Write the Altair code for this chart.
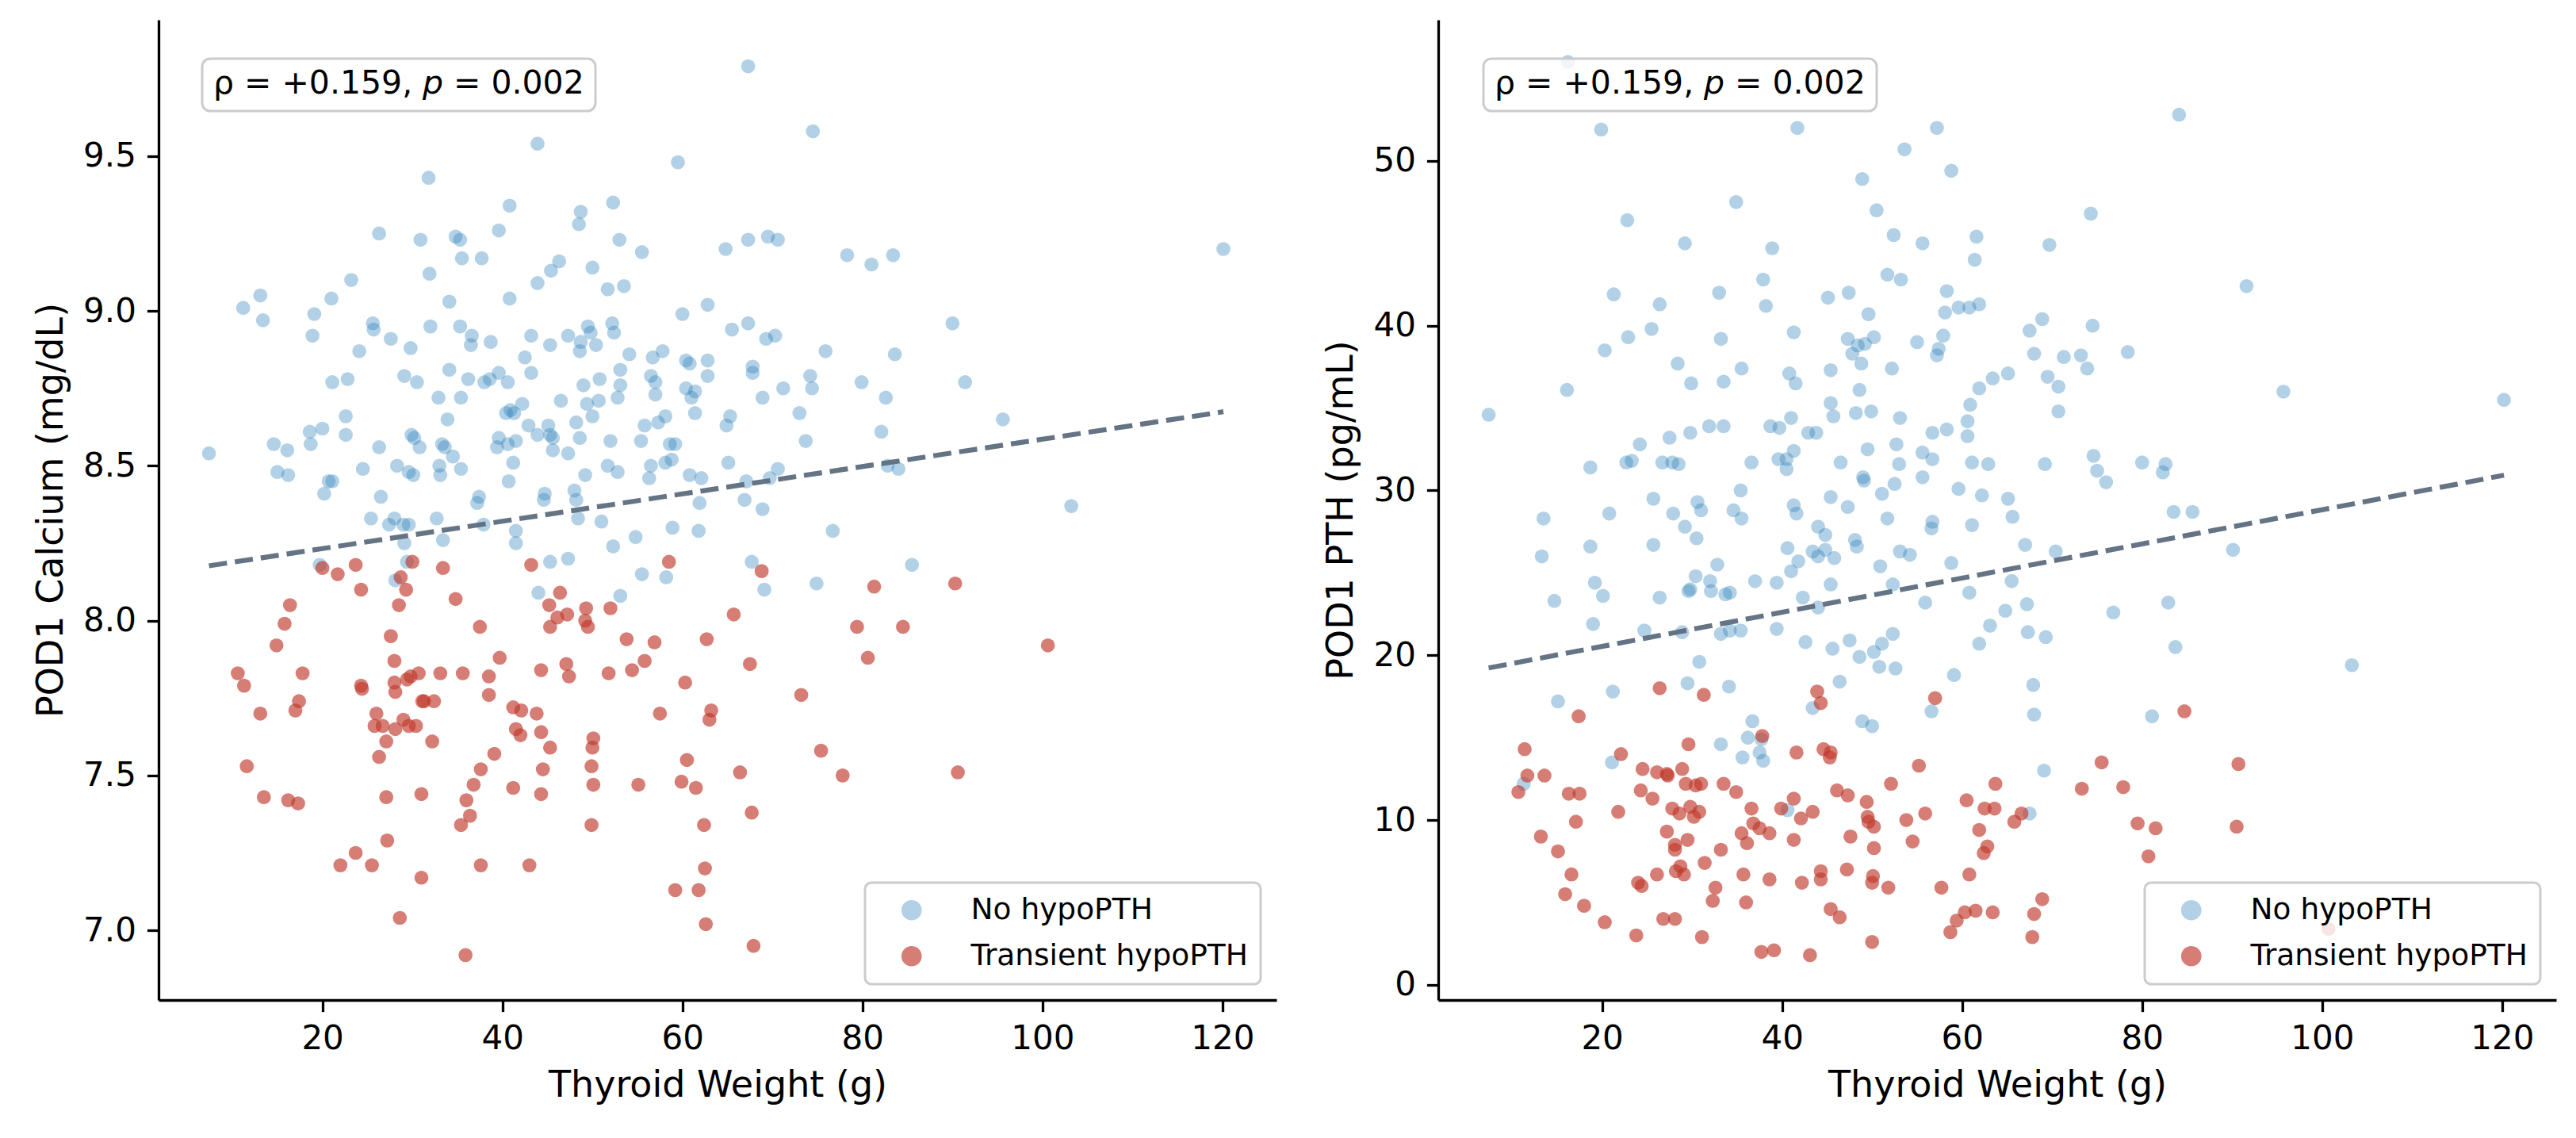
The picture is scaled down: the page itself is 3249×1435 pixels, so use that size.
import altair as alt
import pandas as pd

GROUPS = ["No hypoPTH", "Transient hypoPTH"]
COLORS = ["#2980b9", "#c0392b"]
OPAC = [0.36, 0.65]
X_TICKS = [20, 40, 60, 80, 100, 120]
CA_TICKS = [7.0, 7.5, 8.0, 8.5, 9.0, 9.5]
PTH_TICKS = [0, 10, 20, 30, 40, 50]
ANNOT = ["ρ = +0.159,", "p", "= 0.002"]

# (thyroid weight g, POD1 calcium mg/dL) - no hypoPTH
ca_no = [
    (43.9, 9.54), (59.5, 9.48), (31.8, 9.43), (40.8, 9.34), (52.3, 9.35), (48.7, 9.32), (48.5, 9.28),
    (26.3, 9.25), (30.9, 9.23), (34.8, 9.24), (35.3, 9.23), (39.6, 9.26), (53.0, 9.23), (55.5, 9.19),
    (35.5, 9.17), (37.7, 9.17), (46.3, 9.16), (45.4, 9.13), (50.0, 9.14), (31.9, 9.12), (23.2, 9.10),
    (43.9, 9.09), (51.7, 9.07), (53.5, 9.08), (13.1, 9.05), (11.2, 9.01), (13.4, 8.97), (21.0, 9.04),
    (34.1, 9.03), (40.8, 9.04), (62.8, 9.02), (60.0, 8.99), (19.1, 8.99), (18.9, 8.92), (25.6, 8.96),
    (25.7, 8.94), (32.0, 8.95), (35.3, 8.95), (52.2, 8.96), (52.4, 8.93), (49.5, 8.95), (49.8, 8.93),
    (47.3, 8.92), (48.7, 8.90), (48.6, 8.87), (50.4, 8.89), (36.6, 8.92), (36.5, 8.89), (38.7, 8.90),
    (43.2, 8.92), (45.3, 8.89), (27.6, 8.91), (29.8, 8.88), (24.1, 8.87), (42.5, 8.85), (54.1, 8.86),
    (56.7, 8.85), (57.8, 8.87), (60.4, 8.84), (60.8, 8.83), (62.8, 8.84), (34.1, 8.81), (43.2, 8.80),
    (29.1, 8.79), (30.5, 8.77), (36.2, 8.78), (38.0, 8.77), (38.6, 8.78), (39.6, 8.80), (40.6, 8.77),
    (21.1, 8.77), (22.8, 8.78), (50.8, 8.78), (53.1, 8.81), (53.1, 8.76), (49.0, 8.76), (56.5, 8.79),
    (57.0, 8.77), (62.8, 8.79), (60.4, 8.75), (61.4, 8.74), (61.0, 8.72), (57.0, 8.73), (32.9, 8.72),
    (35.4, 8.72), (46.5, 8.71), (52.8, 8.72), (49.4, 8.70), (50.7, 8.71), (42.2, 8.70), (40.9, 8.68),
    (40.4, 8.67), (41.3, 8.67), (61.4, 8.67), (22.6, 8.66), (33.9, 8.65), (50.0, 8.66), (58.1, 8.66),
    (57.3, 8.64), (48.2, 8.64), (55.8, 8.63), (42.9, 8.63), (18.6, 8.61), (20.0, 8.62), (22.6, 8.60),
    (29.9, 8.60), (30.2, 8.59), (45.1, 8.63), (45.3, 8.60), (45.6, 8.59), (43.9, 8.60), (39.6, 8.59),
    (39.4, 8.56), (40.6, 8.57), (41.5, 8.58), (48.6, 8.59), (52.0, 8.58), (55.4, 8.58), (58.6, 8.57),
    (59.2, 8.57), (14.6, 8.57), (16.1, 8.55), (18.7, 8.57), (26.3, 8.56), (30.8, 8.56), (33.3, 8.57),
    (33.6, 8.56), (34.5, 8.53), (45.6, 8.55), (47.3, 8.54), (7.4, 8.54), (41.2, 8.51), (56.5, 8.50),
    (58.1, 8.51), (58.8, 8.52), (51.7, 8.50), (52.8, 8.48), (24.5, 8.49), (28.3, 8.50), (29.6, 8.48),
    (30.1, 8.47), (33.0, 8.50), (33.1, 8.47), (35.4, 8.49), (15.0, 8.48), (16.2, 8.47), (20.7, 8.45),
    (21.1, 8.45), (40.7, 8.45), (49.2, 8.47), (56.3, 8.46), (60.8, 8.47), (62.1, 8.46), (20.2, 8.41),
    (26.5, 8.40), (44.7, 8.41), (44.6, 8.39), (48.0, 8.42), (48.2, 8.39), (37.4, 8.40), (37.2, 8.38),
    (61.9, 8.38), (25.4, 8.33), (27.4, 8.31), (28.0, 8.33), (29.0, 8.31), (29.6, 8.31), (32.7, 8.33),
    (29.1, 8.25), (33.4, 8.26), (37.9, 8.31), (41.5, 8.29), (41.5, 8.25), (48.4, 8.33), (51.0, 8.32),
    (52.3, 8.24), (54.8, 8.27), (58.9, 8.30), (61.8, 8.29), (19.7, 8.18), (29.4, 8.19), (28.1, 8.13),
    (45.3, 8.19), (47.3, 8.20), (55.5, 8.15), (58.2, 8.14), (44.0, 8.09), (53.1, 8.08),
    (67.3, 9.79), (74.5, 9.58), (64.8, 9.20), (67.3, 9.23), (69.5, 9.24), (70.6, 9.23), (78.3, 9.18),
    (81.0, 9.15), (83.4, 9.18), (120.1, 9.20), (67.3, 8.96), (65.5, 8.94), (69.3, 8.91), (70.3, 8.92),
    (90.0, 8.96), (75.9, 8.87), (83.6, 8.86), (67.8, 8.82), (67.8, 8.80), (74.2, 8.79), (74.4, 8.75),
    (71.2, 8.75), (68.9, 8.72), (79.9, 8.77), (91.4, 8.77), (82.6, 8.72), (73.0, 8.67), (65.3, 8.66),
    (64.9, 8.63), (95.6, 8.65), (82.1, 8.61), (73.7, 8.58), (65.1, 8.51), (70.6, 8.49), (82.8, 8.50),
    (84.0, 8.49), (67.1, 8.45), (69.7, 8.46), (66.9, 8.39), (68.9, 8.36), (103.2, 8.37),
    (76.7, 8.29), (67.7, 8.19), (69.1, 8.10), (74.9, 8.12), (85.5, 8.18),
]

# (thyroid weight g, POD1 calcium mg/dL) - transient hypoPTH
ca_tr = [
    (20.0, 8.17), (21.7, 8.15), (23.7, 8.18), (24.3, 8.10), (30.0, 8.19), (28.7, 8.14), (29.3, 8.10),
    (28.5, 8.05), (33.4, 8.17), (34.8, 8.07), (16.4, 8.05), (15.8, 7.99), (14.9, 7.92), (37.5, 7.98),
    (27.6, 7.95), (43.2, 8.18), (46.4, 8.09), (45.2, 8.05), (47.2, 8.02), (46.1, 8.01), (45.3, 7.98),
    (49.3, 8.04), (49.2, 8.00), (49.5, 7.98), (52.0, 8.04), (58.5, 8.19), (53.8, 7.94), (56.9, 7.93),
    (62.7, 7.94), (39.7, 7.88), (28.0, 7.87), (47.1, 7.86), (47.4, 7.82), (44.3, 7.84), (55.8, 7.87),
    (54.4, 7.84), (51.8, 7.83), (60.3, 7.80), (10.6, 7.83), (11.3, 7.79), (17.8, 7.83), (24.3, 7.79),
    (24.4, 7.78), (28.0, 7.80), (28.1, 7.77), (29.4, 7.81), (29.8, 7.82), (30.7, 7.83), (33.1, 7.83),
    (35.6, 7.83), (38.5, 7.82), (38.5, 7.76), (31.1, 7.74), (31.3, 7.74), (32.4, 7.74), (17.4, 7.74),
    (17.0, 7.71), (13.1, 7.70), (26.0, 7.70), (25.8, 7.66), (26.7, 7.66), (28.1, 7.65), (29.0, 7.68),
    (29.6, 7.66), (30.4, 7.66), (27.1, 7.61), (32.2, 7.61), (41.2, 7.72), (42.1, 7.71), (43.8, 7.70),
    (41.5, 7.65), (42.0, 7.63), (44.3, 7.64), (45.3, 7.59), (50.1, 7.62), (50.0, 7.59), (57.5, 7.70),
    (63.2, 7.71), (63.0, 7.68), (26.3, 7.56), (39.1, 7.57), (37.6, 7.52), (44.5, 7.52), (49.9, 7.53),
    (60.5, 7.55), (11.6, 7.53), (36.8, 7.47), (41.2, 7.46), (44.3, 7.44), (50.1, 7.47), (55.1, 7.47),
    (59.9, 7.48), (61.5, 7.46), (13.5, 7.43), (16.2, 7.42), (17.3, 7.41), (27.1, 7.43), (31.0, 7.44),
    (36.0, 7.42), (36.4, 7.37), (35.4, 7.34), (49.9, 7.34), (62.4, 7.34), (27.2, 7.29), (23.7, 7.25),
    (22.0, 7.21), (25.5, 7.21), (31.0, 7.17), (37.6, 7.21), (43.0, 7.21), (62.5, 7.20), (59.2, 7.13),
    (61.8, 7.13), (62.6, 7.02), (28.6, 7.04), (35.9, 6.92),
    (68.8, 8.16), (81.3, 8.11), (90.3, 8.12), (65.7, 8.02), (79.4, 7.98), (84.5, 7.98), (100.6, 7.92),
    (67.5, 7.86), (80.6, 7.88), (73.2, 7.76), (75.4, 7.58), (66.4, 7.51), (77.8, 7.50), (90.6, 7.51),
    (67.7, 7.38), (67.9, 6.95),
]

# (thyroid weight g, POD1 PTH pg/mL) - no hypoPTH
pth_no = [
    (16.2, 56.0), (19.9, 51.9), (41.7, 52.0), (57.2, 52.0), (53.6, 50.7), (58.8, 49.4), (48.9, 48.9),
    (34.9, 47.5), (50.5, 47.0), (22.8, 46.4), (52.4, 45.5), (55.6, 45.0), (29.2, 45.0), (38.9, 44.7),
    (51.7, 43.1), (53.2, 42.8), (37.9, 42.8), (21.3, 41.9), (33.0, 42.0), (47.4, 42.0), (45.1, 41.7),
    (58.3, 42.1), (26.4, 41.3), (38.2, 41.2), (49.6, 40.7), (58.1, 40.8), (59.6, 41.1), (25.5, 39.8),
    (22.9, 39.3), (33.2, 39.2), (41.3, 39.6), (47.3, 39.2), (48.4, 38.8), (49.2, 38.9), (50.2, 39.3),
    (57.9, 39.4), (55.0, 39.0), (20.3, 38.5), (57.4, 38.6), (57.2, 38.2), (47.8, 38.3), (48.8, 37.7),
    (28.4, 37.7), (35.5, 37.4), (52.2, 37.4), (40.8, 37.1), (45.4, 37.3), (29.9, 36.5), (33.5, 36.6),
    (41.5, 36.5), (16.1, 36.1), (48.6, 36.1), (45.4, 35.3), (7.4, 34.6), (48.2, 34.7), (49.9, 34.8),
    (45.7, 34.5), (41.0, 34.4), (53.1, 34.4), (31.9, 33.9), (33.5, 33.9), (38.7, 33.9), (39.7, 33.8),
    (29.8, 33.5), (42.9, 33.5), (43.8, 33.5), (56.7, 33.5), (58.3, 33.7), (27.5, 33.2), (24.2, 32.8),
    (52.7, 32.8), (49.5, 32.5), (41.3, 32.4), (55.6, 32.3), (18.7, 31.4), (22.7, 31.7), (23.3, 31.8),
    (26.7, 31.7), (27.8, 31.7), (28.5, 31.6), (36.6, 31.7), (39.6, 31.9), (40.5, 31.9), (40.5, 31.3),
    (46.5, 31.7), (53.0, 31.6), (56.7, 31.9), (49.0, 30.8), (49.1, 30.6), (55.6, 30.8), (52.5, 30.4),
    (51.1, 29.8), (35.4, 30.0), (45.4, 29.6), (25.7, 29.5), (59.6, 30.1), (30.6, 29.3), (41.3, 29.1),
    (47.3, 29.0),
    (13.5, 28.3), (20.8, 28.6), (27.9, 28.6), (31.0, 28.8), (34.6, 28.8), (35.5, 28.3), (41.6, 28.6),
    (51.7, 28.3), (56.7, 28.1), (56.6, 27.7), (29.2, 27.8), (30.5, 27.1), (44.0, 27.8), (44.8, 27.3),
    (25.7, 26.7), (18.7, 26.6), (13.3, 26.0), (40.6, 26.5), (41.8, 25.7), (43.4, 26.3), (44.0, 26.0),
    (44.8, 26.4), (45.8, 25.9), (48.1, 27.0), (48.3, 26.6), (53.1, 26.3), (54.2, 26.1), (50.9, 25.4),
    (58.8, 25.6), (32.8, 25.5), (41.0, 25.1), (30.4, 24.8), (19.2, 24.4), (32.0, 24.5), (29.8, 24.0),
    (29.6, 23.9), (32.1, 23.9), (33.7, 23.7), (34.2, 23.8), (37.0, 24.5), (39.4, 24.4), (45.4, 24.3),
    (52.3, 24.3), (20.1, 23.6), (14.7, 23.3), (26.4, 23.5), (42.3, 23.5), (55.9, 23.2), (44.0, 22.9),
    (19.0, 21.9), (24.7, 21.5), (28.9, 21.4), (33.2, 21.3), (34.2, 21.5), (35.4, 21.5), (39.4, 21.6),
    (42.6, 20.8), (47.5, 20.9), (51.1, 20.7), (52.3, 21.3), (45.6, 20.4), (50.2, 20.2), (48.6, 19.9),
    (50.8, 19.3), (52.6, 19.2), (30.8, 19.6), (59.1, 18.8), (46.4, 18.4), (29.5, 18.3), (34.1, 18.1),
    (21.2, 17.8), (15.1, 17.2), (43.4, 16.8), (56.6, 16.6), (48.9, 16.0), (50.0, 15.7), (36.7, 16.0),
    (36.2, 15.0), (37.7, 14.9), (33.2, 14.6), (37.5, 14.1), (37.9, 13.6), (35.6, 13.8), (21.1, 13.5),
    (11.3, 12.2), (40.6, 10.6),
    (84.1, 52.8), (74.3, 46.8), (61.6, 45.4), (69.7, 44.9), (61.4, 44.0), (91.6, 42.4), (60.8, 41.1),
    (61.9, 41.3), (68.9, 40.4), (67.5, 39.7), (74.5, 40.0), (68.0, 38.3), (71.3, 38.1), (73.2, 38.2),
    (73.9, 37.4), (78.4, 38.4), (65.1, 37.1), (63.4, 36.8), (61.9, 36.2), (69.5, 36.9), (70.7, 36.3),
    (95.7, 36.0), (120.2, 35.5), (60.9, 35.2), (70.7, 34.8), (60.6, 34.2), (60.6, 33.3), (61.1, 31.7),
    (62.9, 31.6), (69.2, 31.6), (74.6, 32.1), (75.0, 31.2), (76.0, 30.5), (80.0, 31.7), (82.6, 31.6),
    (82.3, 31.1), (62.2, 29.7), (65.1, 29.5),
    (61.1, 27.9), (65.6, 28.4), (83.5, 28.7), (85.6, 28.7), (67.0, 26.7), (70.4, 26.3), (90.1, 26.4),
    (65.5, 24.5), (60.8, 23.8), (67.2, 23.1), (64.8, 22.7), (63.1, 21.8), (61.9, 20.7), (67.3, 21.4),
    (69.3, 21.1), (76.8, 22.6), (82.9, 23.2), (83.7, 20.5), (103.3, 19.4), (67.9, 18.2), (68.0, 16.4),
    (81.1, 16.3), (69.1, 13.0), (67.5, 10.4),
]

# (thyroid weight g, POD1 PTH pg/mL) - transient hypoPTH
pth_tr = [
    (26.4, 18.0), (31.3, 17.6), (43.9, 17.8), (44.3, 17.1), (57.0, 17.4), (17.4, 16.3), (37.8, 15.1),
    (29.6, 14.6), (11.4, 14.3), (22.1, 14.0), (41.6, 14.1), (44.6, 14.3), (45.4, 14.1), (45.3, 13.8),
    (55.2, 13.3), (24.5, 13.1), (26.1, 12.9), (27.2, 12.8), (27.3, 12.7), (28.9, 13.1), (11.7, 12.7),
    (13.6, 12.7), (29.3, 12.2), (30.4, 12.1), (31.0, 12.2), (33.5, 12.2), (52.1, 12.2), (10.7, 11.7),
    (16.3, 11.6), (17.5, 11.6), (24.3, 11.8), (25.6, 11.3), (34.9, 11.7), (46.1, 11.8), (47.3, 11.5),
    (49.4, 11.1), (41.3, 11.3), (60.5, 11.2), (21.8, 10.5), (27.8, 10.7), (28.6, 10.4), (29.8, 10.8),
    (30.8, 10.5), (30.2, 10.2), (36.6, 10.7), (39.9, 10.7), (42.1, 10.1), (43.4, 10.5), (49.5, 10.2),
    (49.6, 9.9), (50.2, 9.6), (55.9, 10.4), (53.8, 10.0), (17.1, 9.9), (27.2, 9.3), (36.8, 9.8),
    (37.5, 9.5), (35.5, 9.2), (38.6, 9.2), (13.2, 9.0), (29.5, 8.8), (28.1, 8.5), (28.1, 8.2),
    (36.1, 8.6), (41.3, 8.8), (47.6, 9.0), (54.5, 8.7), (50.2, 8.3), (15.1, 8.1), (33.2, 8.2),
    (31.4, 7.4), (16.6, 6.7), (26.1, 6.7), (28.7, 7.2), (28.2, 6.9), (29.1, 6.7), (35.7, 6.7),
    (38.6, 6.4), (44.3, 6.9), (44.3, 6.4), (47.2, 7.0), (50.1, 6.6), (50.0, 6.2), (60.8, 6.7),
    (24.0, 6.2), (24.4, 6.0), (32.6, 5.9), (42.2, 6.2), (51.8, 5.9), (57.7, 5.9), (15.9, 5.5),
    (32.3, 5.1), (36.0, 5.0), (18.0, 4.8), (45.4, 4.6), (46.4, 4.1), (59.4, 3.9), (60.3, 4.4),
    (58.7, 3.2), (20.3, 3.8), (26.8, 4.0), (28.1, 4.0), (23.8, 3.0), (31.1, 2.9), (50.0, 2.6),
    (37.7, 2.0), (39.1, 2.1), (43.1, 1.8),
    (84.7, 16.6), (75.5, 13.5), (90.7, 13.4), (63.7, 12.2), (73.3, 11.9), (77.9, 12.0), (62.5, 10.7),
    (63.6, 10.7), (66.6, 10.4), (65.8, 9.9), (61.9, 9.4), (62.8, 8.4), (62.4, 8.0), (79.5, 9.8),
    (81.5, 9.5), (90.5, 9.6), (80.7, 7.8), (68.9, 5.2), (68.0, 4.3), (67.8, 2.9), (61.5, 4.5),
    (63.4, 4.4), (100.7, 3.4),
]

FONT = "DejaVu Sans"


def frame(no, tr):
    rows = [{"weight": w, "value": v, "group": GROUPS[0]} for w, v in no]
    rows += [{"weight": w, "value": v, "group": GROUPS[1]} for w, v in tr]
    return pd.DataFrame(rows)


def panel(df, ytitle, ydomain, yticks, yfmt, dx):
    x = alt.X("weight:Q", title="Thyroid Weight (g)",
              scale=alt.Scale(domain=[1.8, 126.0], nice=False, zero=False),
              axis=alt.Axis(values=X_TICKS, format="d"))
    y = alt.Y("value:Q", title=ytitle,
              scale=alt.Scale(domain=ydomain, nice=False, zero=False),
              axis=alt.Axis(values=yticks, format=yfmt))
    leg = alt.Legend(title=None, orient="bottom-right", offset=20,
                     labelFont=FONT, labelFontSize=37.5, labelColor="black", labelLimit=800,
                     symbolType="circle", symbolSize=660, symbolStrokeWidth=0,
                     rowPadding=19, padding=16, symbolOffset=24, labelOffset=56,
                     fillColor="rgba(255,255,255,0.8)", strokeColor="#cccccc",
                     cornerRadius=8)
    pts = alt.Chart(df).mark_circle(size=314, strokeWidth=0).encode(
        x=x, y=y,
        color=alt.Color("group:N", scale=alt.Scale(domain=GROUPS, range=COLORS), legend=leg),
        opacity=alt.Opacity("group:N", scale=alt.Scale(domain=GROUPS, range=OPAC), legend=leg),
    )
    line = alt.Chart(df).transform_regression("weight", "value").mark_line(
        color="#5d6d7e", strokeWidth=6.2, strokeDash=[23, 10], opacity=0.95
    ).encode(x=x, y=y)
    one = pd.DataFrame({"k": [0]})
    box = alt.Chart(one).mark_rect(
        fill="white", fillOpacity=0.8, stroke="#cccccc", strokeWidth=3, cornerRadius=10
    ).encode(x=alt.value(55 + dx), x2=alt.value(551 + dx), y=alt.value(49), y2=alt.value(115))
    t1 = alt.Chart(one).mark_text(text=ANNOT[0], align="left", baseline="alphabetic",
                                  font=FONT, fontSize=41, color="black").encode(
        x=alt.value(69 + dx), y=alt.value(93))
    t2 = alt.Chart(one).mark_text(text=ANNOT[1], align="left", baseline="alphabetic",
                                  font=FONT, fontSize=41, fontStyle="italic", color="black").encode(
        x=alt.value(333 + dx), y=alt.value(93))
    t3 = alt.Chart(one).mark_text(text=ANNOT[2], align="left", baseline="alphabetic",
                                  font=FONT, fontSize=41, color="black").encode(
        x=alt.value(372 + dx), y=alt.value(93))
    return alt.layer(pts, line, box, t1, t2, t3).properties(width=1410, height=1236)


left = panel(frame(ca_no, ca_tr), "POD1 Calcium (mg/dL)", [6.775, 9.94], CA_TICKS, ".1f", 0)
right = panel(frame(pth_no, pth_tr), "POD1 PTH (pg/mL)", [-0.92, 58.56], PTH_TICKS, "d", 2)

chart = alt.hconcat(left, right, spacing=58).resolve_scale(
    color="independent", opacity="independent", x="independent", y="independent"
).resolve_legend(
    color="independent", opacity="independent"
).properties(
    padding={"left": 33, "top": 17, "right": 5, "bottom": 5},
    background="white",
).configure_view(
    strokeWidth=0
).configure_axis(
    grid=False,
    domainColor="black", domainWidth=3.3,
    tickColor="black", tickWidth=3.3, tickSize=14.6,
    labelFont=FONT, labelFontSize=42, labelColor="black", labelPadding=14,
    titleFont=FONT, titleFontSize=46, titleFontWeight="normal", titleColor="black",
    titlePadding=16,
).configure_legend(
    strokeWidth=3
)

chart.save("out.html", embed_options={"renderer": "svg", "actions": False})
